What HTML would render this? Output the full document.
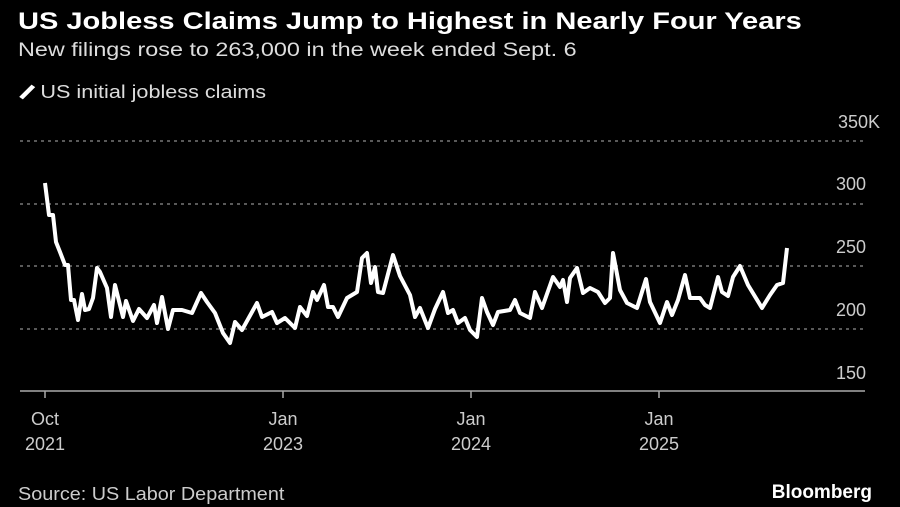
<!DOCTYPE html>
<html><head><style>
body{margin:0;background:#000;width:900px;height:507px;overflow:hidden;font-family:"Liberation Sans",sans-serif;color:#fff;position:relative}
.t{position:absolute;white-space:nowrap;transform-origin:left top}
</style></head><body>
<div class="t" style="left:18px;top:8px;font-size:24px;font-weight:bold;transform:scaleX(1.21)">US Jobless Claims Jump to Highest in Nearly Four Years</div>
<div class="t" style="left:18px;top:40px;font-size:19px;color:#ddd;transform:scaleX(1.23)">New filings rose to 263,000 in the week ended Sept. 6</div>
<div class="t" style="left:20px;top:82px;font-size:18px;color:#ddd;transform:scaleX(1.2)"><span style="display:inline-block;width:4px;height:16px;background:#fff;transform:rotate(40deg);margin:0 9px 0 4px;vertical-align:-2px"></span>US initial jobless claims</div>
<svg width="900" height="507" style="position:absolute;left:0;top:0">
<g stroke="#777" stroke-width="1.5" stroke-dasharray="3,4">
<line x1="20" x2="865" y1="141" y2="141"/><line x1="20" x2="865" y1="204" y2="204"/><line x1="20" x2="865" y1="266" y2="266"/><line x1="20" x2="865" y1="329" y2="329"/>
</g>
<line x1="20" x2="865" y1="391" y2="391" stroke="#aaa" stroke-width="1.5"/>
<g stroke="#aaa" stroke-width="1.5"><line x1="45" x2="45" y1="391" y2="398"/><line x1="283" x2="283" y1="391" y2="398"/><line x1="471" x2="471" y1="391" y2="398"/><line x1="659" x2="659" y1="391" y2="398"/></g>
<g fill="#ccc" font-size="18" font-family="Liberation Sans,sans-serif" text-anchor="end">
<text x="880" y="128">350K</text><text x="866" y="190">300</text><text x="866" y="253">250</text><text x="866" y="316">200</text><text x="866" y="379">150</text>
</g>
<g fill="#ccc" font-size="18" font-family="Liberation Sans,sans-serif" text-anchor="middle">
<text x="45" y="425">Oct</text><text x="45" y="450">2021</text>
<text x="283" y="425">Jan</text><text x="283" y="450">2023</text>
<text x="471" y="425">Jan</text><text x="471" y="450">2024</text>
<text x="659" y="425">Jan</text><text x="659" y="450">2025</text>
</g>
<polyline fill="none" stroke="#fff" stroke-width="4" stroke-linejoin="round" points="45,183 49,215 53,215 56,242 60,252 65,265 68,265 71,300 74,300 78,320 82,294 85,310 89,309 93,298 97,268 100,272 107,288 111,317 115,285 123,317 126,301 133,321 139,309 147,318 154,305 157,323 162,297 168,329 173,310 182,310 192,313 201,293 207,302 215,313 223,333 230,343 235,322 242,330 257,303 262,317 272,312 277,323 285,318 295,328 300,307 307,316 313,292 317,300 324,285 328,307 333,307 338,317 347,298 357,292 362,258 367,253 371,283 375,267 378,292 383,293 393,255 400,276 410,295 415,317 420,308 428,328 435,309 443,292 448,313 453,310 458,323 465,318 470,330 477,337 482,298 487,312 493,325 498,312 510,310 515,300 520,313 530,318 535,292 542,308 553,277 560,287 563,280 567,302 570,278 577,268 583,293 590,288 598,292 605,303 610,298 613,253 620,290 627,303 637,308 646,279 650,302 660,323 667,302 672,315 678,300 685,275 690,298 700,298 705,305 710,308 718,277 722,292 728,296 733,277 740,266 748,285 762,308 770,295 777,285 783,283 787,248"/>
</svg>
<div class="t" style="left:18px;top:484px;font-size:18px;color:#ccc;transform:scaleX(1.1)">Source: US Labor Department</div>
<div class="t" style="right:28px;top:482px;font-size:19px;font-weight:bold">Bloomberg</div>
</body></html>
